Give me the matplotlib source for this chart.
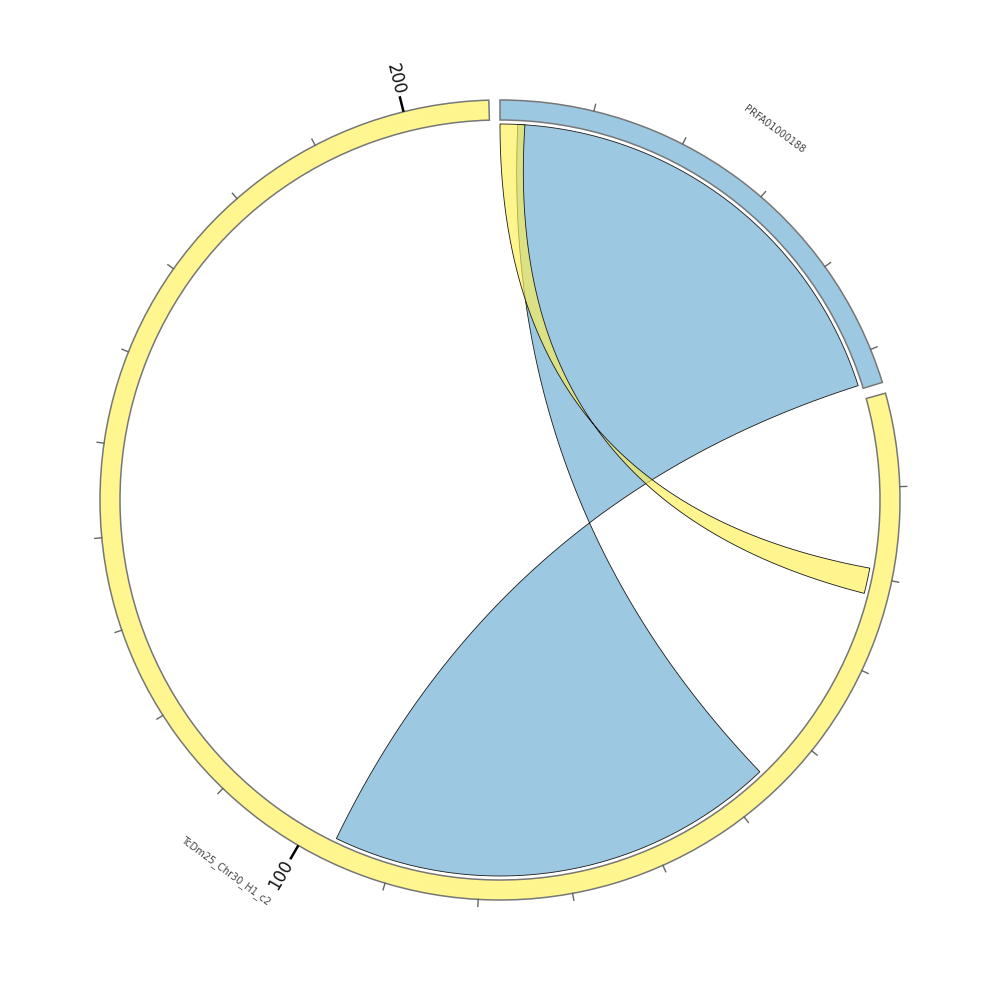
import numpy as np
import matplotlib
matplotlib.use("Agg")
import matplotlib.pyplot as plt
from matplotlib.patches import Wedge, Polygon

# segments (clockwise from the top)
seg_names = ["PRFA01000188", "TcDm25_Chr30_H1_c2"]
seg_lengths = [53.7, 209.1]
seg_colors = ["#9dc8e2", "#fff68f"]

# links: (source seg, start, end, target seg, start, end, colour)
link_src_seg = [0, 0]
link_src_start = [2.0, 0.0]
link_src_end = [53.25, 2.8]
link_tgt_seg = [1, 1]
link_tgt_start = [45.5, 19.1]
link_tgt_end = [96.7, 22.0]
link_colors = [(0.41, 0.67, 0.82, 0.65), (1.0, 0.945, 0.325, 0.65)]

major_ticks = [100, 200]
tick_step = 10

gap = 1.6
r_out, r_in, r_link = 400, 380, 376
scale = (360 - gap * len(seg_lengths)) / sum(seg_lengths)

seg_start = []
a = 0.0
for L in seg_lengths:
    seg_start.append(a)
    a += L * scale + gap


def ang(seg, pos):
    return seg_start[seg] + pos * scale


def xy(theta, r):
    t = np.radians(theta)
    return r * np.sin(t), r * np.cos(t)


def arc(t1, t2, r, n=60):
    ts = np.linspace(t1, t2, n)
    return np.column_stack(xy(ts, r))


def bezier(p0, p2, n=120):
    t = np.linspace(0, 1, n)[:, None]
    return (1 - t) ** 2 * np.array(p0) + t ** 2 * np.array(p2)


fig = plt.figure(figsize=(10, 10), dpi=100)
ax = fig.add_axes([0, 0, 1, 1])
ax.set_xlim(-500, 500)
ax.set_ylim(-500, 500)
ax.set_aspect("equal")
ax.axis("off")

# links
for i in range(len(link_colors)):
    a1 = ang(link_src_seg[i], link_src_start[i])
    a2 = ang(link_src_seg[i], link_src_end[i])
    b1 = ang(link_tgt_seg[i], link_tgt_start[i])
    b2 = ang(link_tgt_seg[i], link_tgt_end[i])
    pts = np.vstack([
        arc(a1, a2, r_link),
        bezier(xy(a2, r_link), xy(b2, r_link)),
        arc(b2, b1, r_link),
        bezier(xy(b1, r_link), xy(a1, r_link)),
    ])
    ax.add_patch(Polygon(pts, closed=True, facecolor=link_colors[i],
                         edgecolor="#1a1a1a", linewidth=0.6))

# track, ticks, labels
for s, L in enumerate(seg_lengths):
    t0 = ang(s, 0)
    t1 = ang(s, L)
    ax.add_patch(Wedge((0, 0), r_out, 90 - t1, 90 - t0, width=r_out - r_in,
                       facecolor=seg_colors[s], edgecolor="#777777", linewidth=1.1))
    for p in range(tick_step, int(L) + 1, tick_step):
        th = ang(s, p)
        if p in major_ticks:
            (x0, y0), (x1, y1) = xy(th, r_out), xy(th, r_out + 16)
            ax.plot([x0, x1], [y0, y1], color="black", lw=1.8, solid_capstyle="butt")
            rot = (270 - th + 180) % 360 - 180
            tx, ty = xy(th, 434)
            ax.text(tx, ty, str(p), fontsize=12, rotation=rot, ha="center", va="center",
                    rotation_mode="anchor", color="#111111")
        else:
            (x0, y0), (x1, y1) = xy(th, r_out), xy(th, r_out + 7)
            ax.plot([x0, x1], [y0, y1], color="#666666", lw=1.0)
    mid = (t0 + t1) / 2
    rot = -mid
    while rot <= -90:
        rot += 180
    while rot > 90:
        rot -= 180
    tx, ty = xy(mid, 461)
    ax.text(tx, ty, seg_names[s], fontsize=7, rotation=rot, ha="center", va="center",
            rotation_mode="anchor", color="#444444")

plt.savefig("out.png", dpi=100, facecolor="white")
